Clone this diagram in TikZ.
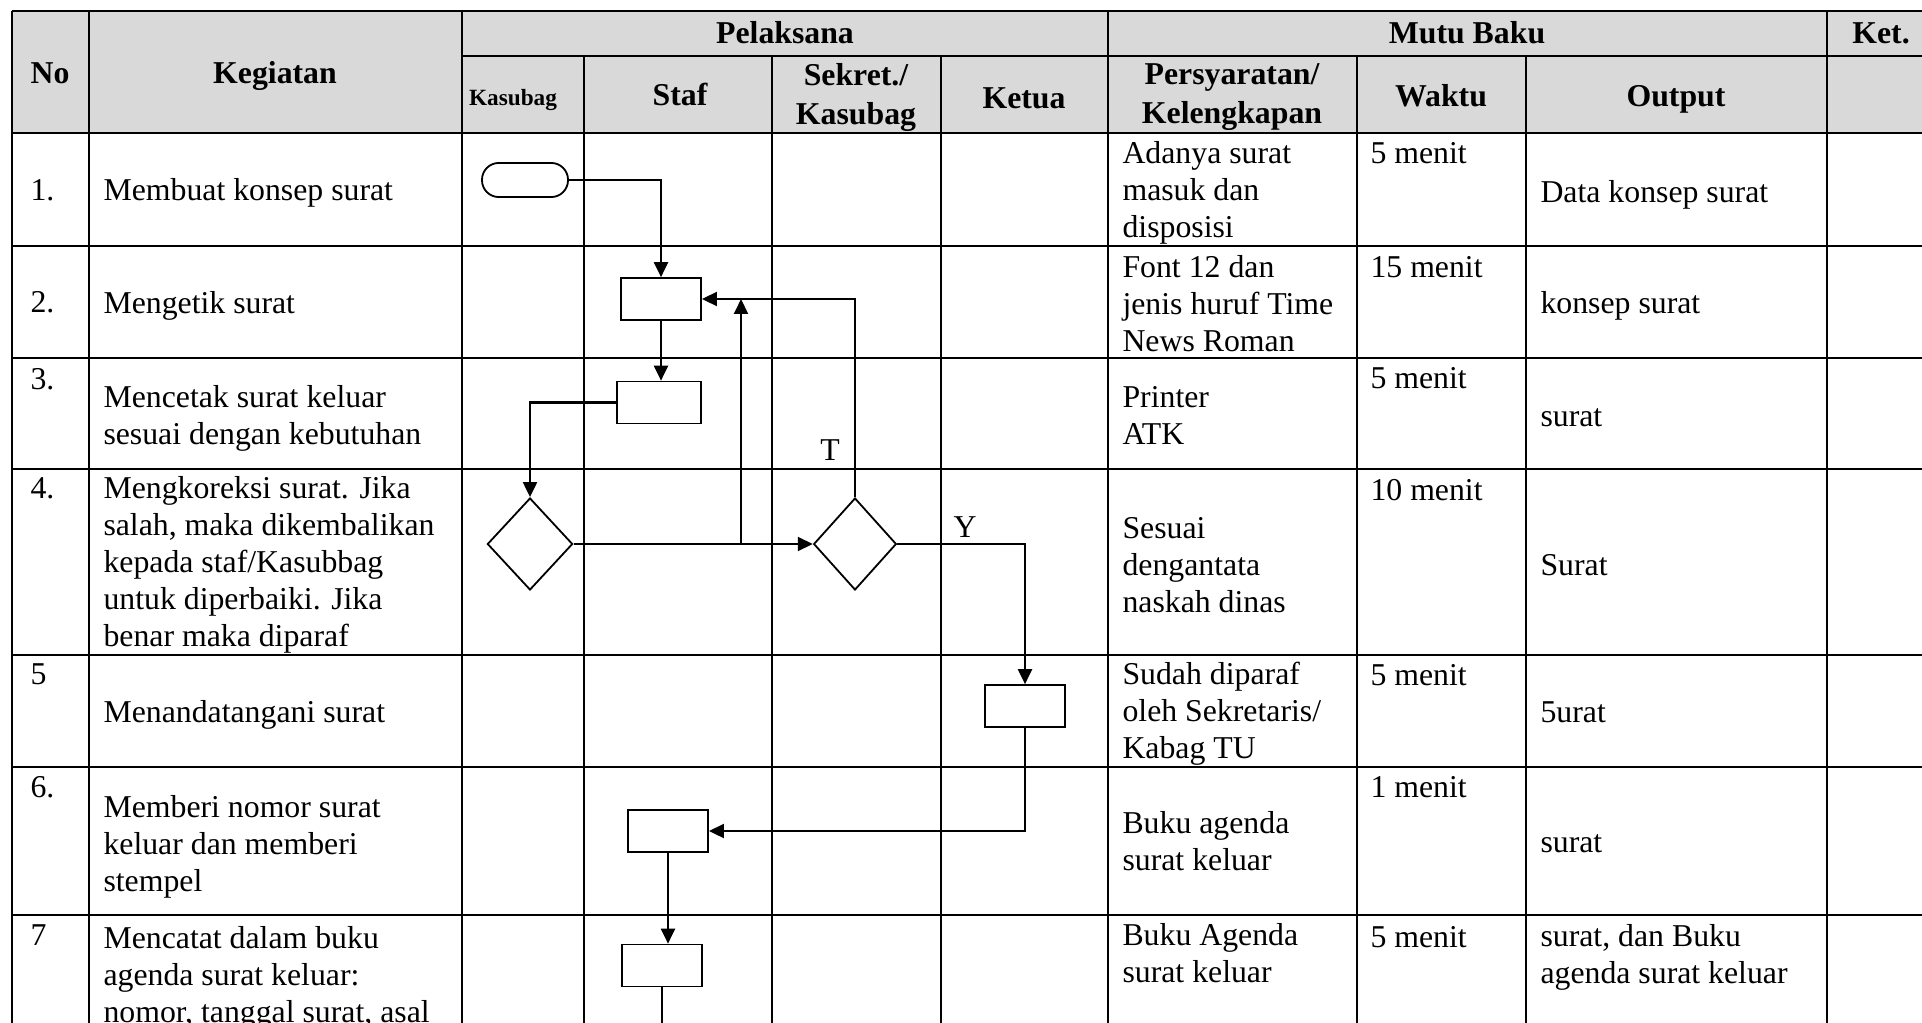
\documentclass[tikz,border=0pt]{standalone}
\usepackage{fontspec}
\setmainfont{Liberation Serif}
\usetikzlibrary{shapes.geometric}
\usetikzlibrary{arrows.meta}

\tikzset{
  isi/.style={anchor=base west, inner sep=0pt, align=left, font=\fontsize{12.3}{14.3}\selectfont},
  judul/.style={anchor=base, inner sep=0pt, align=center, font=\fontsize{12.3}{14.8}\selectfont\bfseries},
  garis/.style={line width=0.95pt},
  proses/.style={draw, rectangle, line width=0.7pt, minimum width=31pt, minimum height=16.2pt, inner sep=0pt},
  keputusan/.style={draw, diamond, line width=0.7pt, minimum width=33pt, minimum height=35.6pt, inner sep=0pt},
  mulai/.style={draw, rectangle, rounded corners=6.5pt, line width=0.7pt, minimum width=33.3pt, minimum height=13.2pt, inner sep=0pt},
  alur/.style={line width=0.85pt, -{Triangle[length=5.8pt,width=5.4pt]}},
}

\begin{document}
\begin{tikzpicture}[x=0.387pt,y=-0.387pt]
\useasboundingbox (0,0) rectangle (1922,1022);
\clip (0,0) rectangle (1922,1022);

%kepala tabel
\fill[black!15] (12,11) rectangle (1935,133);
\draw[garis] (12,11) -- (1935,11);
\draw[garis] (462,56) -- (1935,56);
\foreach \y in {133,246,358,469,655,767,915}
	\draw[garis] (12,\y) -- (1935,\y);
\foreach \x in {12,89,462,1108,1827,1935}
	\draw[garis] (\x,11) -- (\x,1030);
\foreach \x in {584,772,941,1357,1526}
	\draw[garis] (\x,56) -- (\x,1030);

% (multi baris: base = baris terakhir)
\node (hNo) at (50,83) [judul] {No};
\node (hKeg) at (275,83) [judul] {Kegiatan};
\node (hPel) at (785,43) [judul] {Pelaksana};
\node (hMutu) at (1467,43) [judul] {Mutu Baku};
\node (hKet) at (1881,43) [judul] {Ket.};
\node (hKasubag) at (513,105) [judul, font=\fontsize{9}{11}\selectfont\bfseries] {Kasubag};
\node (hStaf) at (680,105) [judul] {Staf};
\node (hSekret) at (856,124) [judul] {Sekret./\\Kasubag};
\node (hKetua) at (1024,108) [judul] {Ketua};
\node (hSyarat) at (1232,123) [judul] {Persyaratan/\\Kelengkapan};
\node (hWaktu) at (1441,106) [judul] {Waktu};
\node (hOutput) at (1676,106) [judul] {Output};

%baris 1
\node (no1) at (30,200) [isi] {1.};
\node (keg1) at (103,200) [isi] {Membuat konsep surat};
\node (syarat1) at (1122,237) [isi] {Adanya surat\\masuk dan\\disposisi};
\node (waktu1) at (1370,163) [isi] {5 menit};
\node (output1) at (1540,202) [isi] {Data konsep surat};
%baris 2
\node (no2) at (30,312) [isi] {2.};
\node (keg2) at (103,313) [isi] {Mengetik surat};
\node (syarat2) at (1122,351) [isi] {Font 12 dan\\jenis huruf Time\\News Roman};
\node (waktu2) at (1370,277) [isi] {15 menit};
\node (output2) at (1540,313) [isi] {konsep surat};
%baris 3
\node (no3) at (30,389) [isi] {3.};
\node (keg3) at (103,444) [isi] {Mencetak surat keluar\\sesuai dengan kebutuhan};
\node (syarat3) at (1122,444) [isi] {Printer\\ATK};
\node (waktu3) at (1370,388) [isi] {5 menit};
\node (output3) at (1540,426) [isi] {surat};
%baris 4
\node (no4) at (30,498) [isi] {4.};
\node (keg4) at (103,646) [isi] {Mengkoreksi surat. Jika\\salah, maka dikembalikan\\kepada staf/Kasubbag\\untuk diperbaiki. Jika\\benar maka diparaf};
\node (syarat4) at (1122,612) [isi] {Sesuai\\dengantata\\naskah dinas};
\node (waktu4) at (1370,500) [isi] {10 menit};
\node (output4) at (1540,575) [isi] {Surat};
%baris 5
\node (no5) at (30,684) [isi] {5};
\node (keg5) at (103,722) [isi] {Menandatangani surat};
\node (syarat5) at (1122,758) [isi] {Sudah diparaf\\oleh Sekretaris/\\Kabag TU};
\node (waktu5) at (1370,685) [isi] {5 menit};
\node (output5) at (1540,722) [isi] {5urat};
%baris 6
\node (no6) at (30,797) [isi] {6.};
\node (keg6) at (103,891) [isi] {Memberi nomor surat\\keluar dan memberi\\stempel};
\node (syarat6) at (1122,870) [isi] {Buku agenda\\surat keluar};
\node (waktu6) at (1370,797) [isi] {1 menit};
\node (output6) at (1540,852) [isi] {surat};
%baris 7
\node (no7) at (30,945) [isi] {7};
\node (keg7) at (103,1022) [isi] {Mencatat dalam buku\\agenda surat keluar:\\nomor, tanggal surat, asal};
\node (syarat7) at (1122,982) [isi] {Buku Agenda\\surat keluar};
\node (waktu7) at (1370,947) [isi] {5 menit};
\node (output7) at (1540,983) [isi] {surat, dan Buku\\agenda surat keluar};

%bagan alir
\node[mulai] (m1) at (525,180) {};
\node[proses] (p2) at (661,299) {};
\node[proses, minimum width=32.5pt] (p3) at (659,402.5) {};
\node[keputusan] (k1) at (530,544) {};
\node[keputusan, minimum width=32pt] (k2) at (855,544) {};
\node[proses] (p5) at (1025,706) {};
\node[proses] (p6) at (668,831) {};
\node[proses] (p7) at (662,965.5) {};
\coordinate (cabang) at (741,544);
\coordinate (bawah) at (662,1030);

\draw[alur] (m1.east) -| (p2.north);
\draw[alur] (p2.south) -- (p2.south |- p3.north);
\draw[alur] (p3.west) -| (k1.north);
\draw[alur] (k1.east) -- (k2.west);
\draw[alur] (cabang) -- (cabang |- p2.east);
\draw[alur] (k2.north) |- (p2.east);
\draw[alur] (k2.east) -| (p5.north);
\draw[alur] (p5.south) |- (p6.east);
\draw[alur] (p6.south) -- (p6.south |- p7.north);
\draw[line width=0.85pt] (p7.south) -- (bawah);
\node (lT) at (830,460) [isi, anchor=base, font=\fontsize{12.3}{14}\selectfont] {T};
\node (lY) at (965,537) [isi, anchor=base, font=\fontsize{12.3}{14}\selectfont] {Y};

\end{tikzpicture}
\end{document}
